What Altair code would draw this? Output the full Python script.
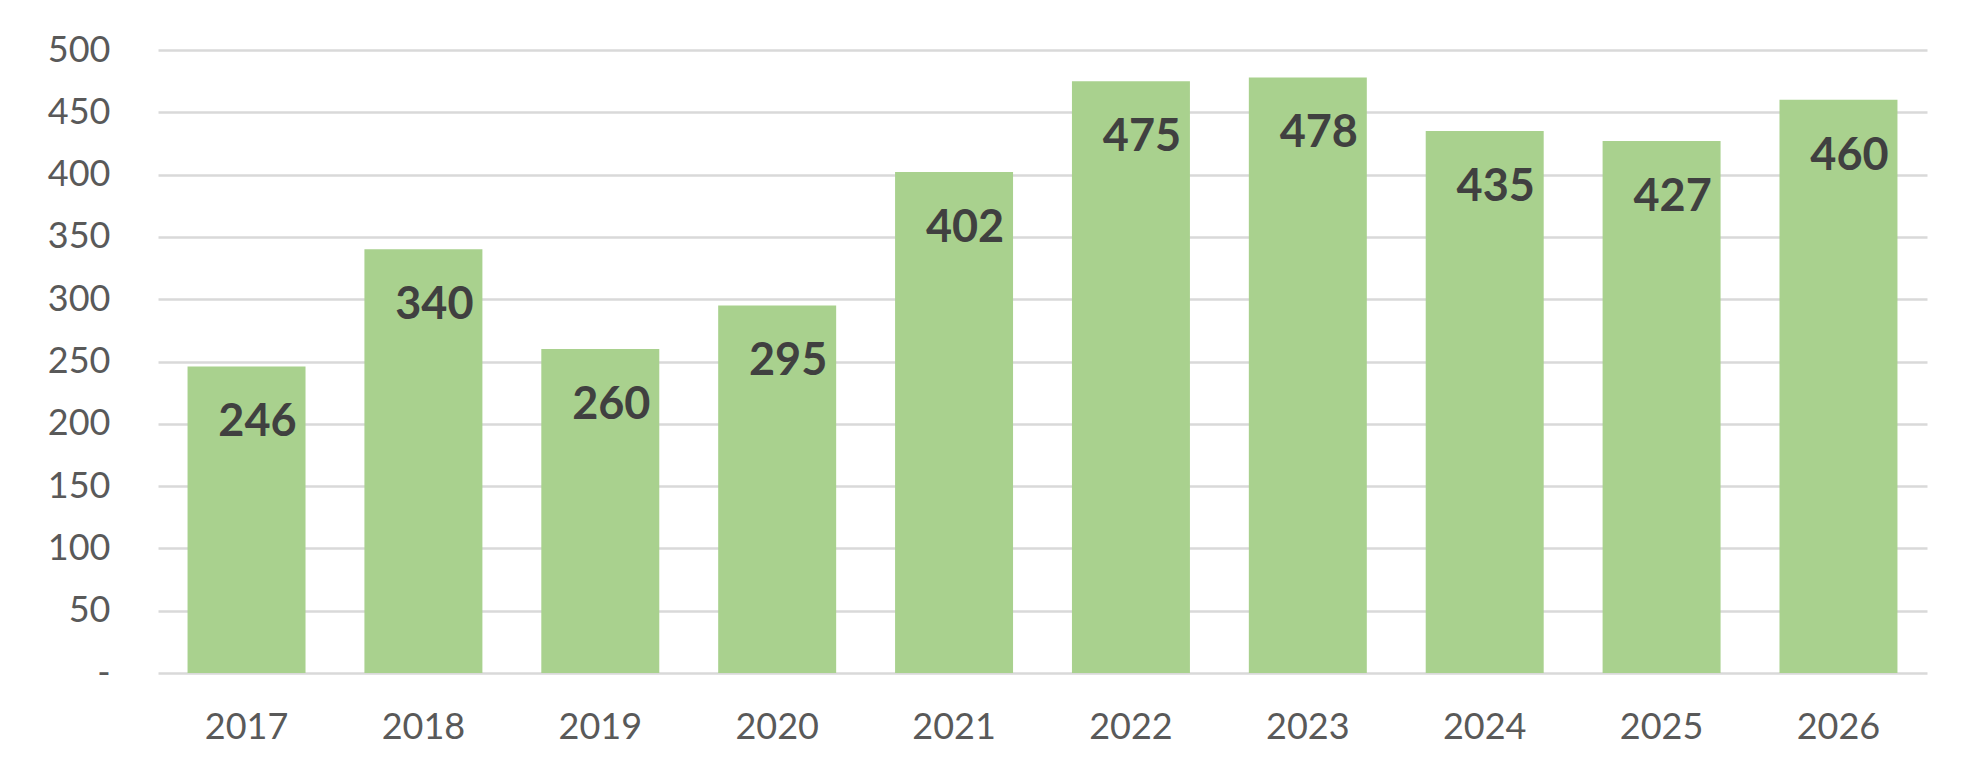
import altair as alt
import pandas as pd

years = ["2017", "2018", "2019", "2020", "2021", "2022", "2023", "2024", "2025", "2026"]
values = [246, 340, 260, 295, 402, 475, 478, 435, 427, 460]

df = pd.DataFrame({"year": years, "value": values})

FONT = "Lato"

x_enc = alt.X(
    "year:N",
    sort=years,
    title=None,
    scale=alt.Scale(paddingInner=0.333, paddingOuter=0.167),
    axis=alt.Axis(
        labelAngle=0,
        labelFont=FONT,
        labelFontSize=36,
        labelColor="#595959",
        labelBaseline="alphabetic",
        labelPadding=65,
        ticks=False,
        domain=False,
        grid=False,
    ),
)
y_enc = alt.Y(
    "value:Q",
    title=None,
    scale=alt.Scale(domain=[0, 500], nice=False),
    axis=alt.Axis(
        values=list(range(0, 501, 50)),
        labelFont=FONT,
        labelFontSize=36,
        labelColor="#595959",
        labelPadding=48,
        labelExpr="datum.value == 0 ? '-\u00a0\u00a0' : datum.label",
        ticks=False,
        domain=False,
        grid=True,
        gridColor="#d9d9d9",
        gridWidth=2.5,
    ),
)

bars = alt.Chart(df).mark_bar(color="#a9d18e").encode(x=x_enc, y=y_enc)

labels = alt.Chart(df).mark_text(
    font=FONT,
    fontSize=45,
    fontWeight="bold",
    color="#404040",
    align="center",
    baseline="alphabetic",
    dx=11,
    dy=70,
).encode(x=x_enc, y=y_enc, text="value:Q")

chart = (
    alt.layer(bars, labels)
    .properties(
        width=1769,
        height=623,
        background="white",
        autosize=alt.AutoSizeParams(type="none"),
        padding={"left": 150, "top": 42, "right": 40, "bottom": 90},
    )
    .configure_view(strokeWidth=0, stroke="transparent")
)

chart.save("out.html", embed_options={"renderer": "svg", "actions": False})
